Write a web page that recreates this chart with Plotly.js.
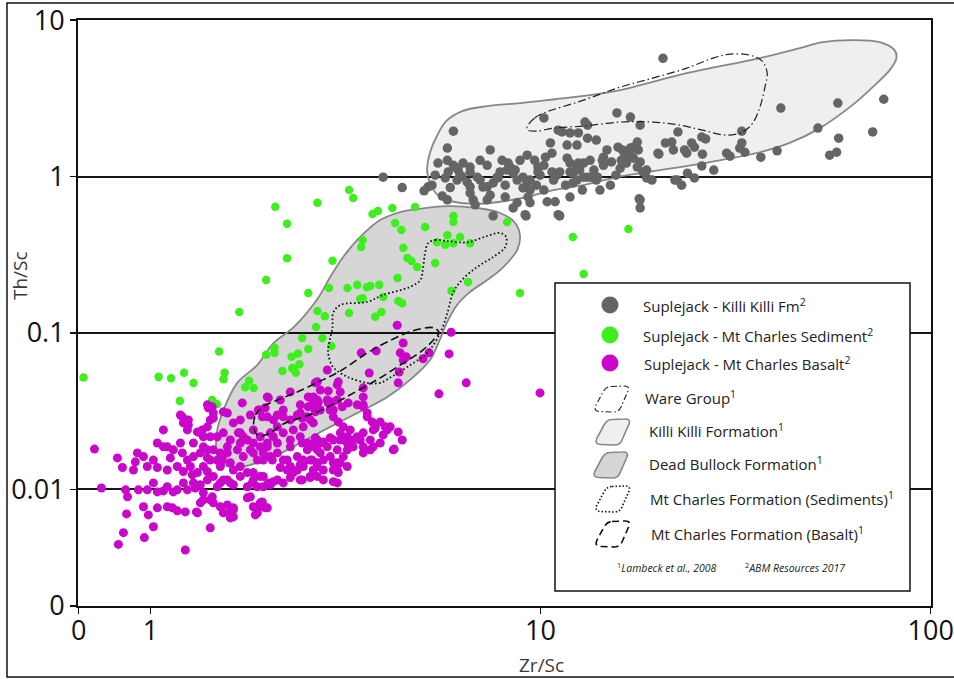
<!DOCTYPE html>
<html><head><meta charset="utf-8">
<script src="https://cdn.plot.ly/plotly-3.0.1.min.js"></script>
<style>html,body{margin:0;padding:0;background:#fff;}#chart{width:954px;height:679px;}</style>
</head><body><div id="chart"></div>
<script>
// ---------- DATA (Zr/Sc, Th/Sc) ----------
const killiFmZrSc = [3.95,4.42,5.03,5.15,5.27,5.60,5.77,5.98,5.77,5.46,5.77,5.98,6.15,6.33,6.60,5.87,6.11,6.49,6.60,6.60,6.72,7.30,7.43,7.00,7.30,7.56,7.74,7.97,8.21,8.36,8.51,8.71,9.02,9.24,9.40,9.29,9.40,9.24,9.66,9.85,10.2,10.3,10.6,10.7,10.2,10.4,10.9,11.1,10.8,11.0,11.2,11.7,11.9,12.4,12.6,12.9,12.1,12.4,12.9,13.4,11.7,12.4,11.9,12.5,11.1,11.35,13.0,13.2,11.9,12.8,13.2,13.9,14.8,13.5,14.0,14.4,14.5,15.2,15.1,15.7,17.0,15.8,16.2,16.6,17.0,17.3,17.7,17.8,18.0,16.6,17.3,18.0,18.3,18.7,19.3,18.0,18.0,20.0,20.9,21.7,21.9,22.5,23.4,23.7,24.4,24.8,22.4,23.0,23.8,24.8,10.2,7.56,8.51,9.13,11.2,8.71,20.6,32.8,41.3,57.8,75.8,51.4,58.1,71.0,55.1,57.4,40.4,36.7,32.8,32.4,33.4,30.0,30.6,25.9,26.5,26.0,25.9,27.8,20.1,22.1,16.4,17.9,9.18,5.37,6.29,8.12,8.86,9.97,11.6,13.7,15.6,16.0,7.00,7.43,7.88,5.70,6.80,8.12,9.76,14.2,6.88,7.12,7.78,8.26,8.61,9.02,9.40,9.85,10.7,11.9,12.5,12.1,13.2,13.9,14.5,16.1,17.0,17.7,18.7,7.30,6.60,6.22,6.04,5.80];
const killiFmThSc = [0.99,0.85,0.81,0.86,0.88,0.75,0.71,1.95,1.52,1.22,1.27,1.18,1.10,1.22,1.15,0.85,0.95,0.92,0.86,0.785,0.71,0.71,0.76,0.95,0.86,0.91,0.99,1.27,1.10,1.15,1.05,0.95,0.99,0.91,0.82,0.74,0.68,1.37,1.27,1.15,1.18,1.33,1.64,1.41,0.82,0.69,0.69,0.57,0.95,1.02,1.07,1.31,1.22,1.15,1.10,1.22,1.05,0.95,0.99,1.27,1.59,1.59,1.90,1.90,1.98,1.93,2.23,2.13,0.74,0.82,1.76,1.71,1.48,0.99,0.99,1.27,1.18,1.24,0.88,2.55,2.40,1.54,1.48,1.41,1.52,1.54,1.66,1.48,1.24,1.22,1.31,2.13,1.07,0.98,0.95,0.71,0.63,1.41,1.64,1.66,1.48,1.93,1.48,1.41,1.64,1.54,0.95,0.88,1.05,0.98,2.37,0.56,0.63,0.57,0.56,0.68,5.7,1.95,2.74,2.95,3.12,2.04,1.76,1.93,1.37,1.43,1.46,1.33,1.64,1.52,1.43,1.41,1.35,1.79,1.74,1.39,1.17,1.10,1.39,0.95,1.33,0.72,0.56,1.02,1.00,0.88,1.27,1.02,0.88,1.10,1.02,1.13,1.27,1.48,1.07,0.98,0.66,0.74,0.88,0.82,0.99,0.857,0.98,1.22,1.10,0.846,0.95,1.07,1.07,1.07,1.22,0.91,0.99,0.95,1.33,1.27,1.37,1.15,1.10,1.18,1.07,1.02,1.15,1.07];

const sedimentZrSc = [0.674,2.09,2.24,2.68,3.23,3.31,2.24,2.93,1.98,2.54,2.87,3.20,1.69,2.68,2.80,2.66,2.45,2.54,2.76,2.91,1.50,2.08,1.98,2.08,2.30,2.39,1.05,1.13,1.22,1.29,1.55,1.54,2.18,2.31,2.41,2.36,2.33,1.75,1.79,1.84,1.19,1.44,1.48,3.23,3.71,3.83,4.17,4.77,5.98,5.98,8.21,4.24,4.40,5.06,5.77,5.43,5.70,5.98,6.22,6.60,3.50,3.47,4.45,4.56,4.67,4.83,5.37,4.30,3.39,3.59,3.66,3.86,3.95,3.45,3.50,4.32,4.42,6.52,5.91,8.86,3.77,3.91,12.1,16.8,12.9];
const sedimentThSc = [0.052,0.64,0.50,0.68,0.82,0.73,0.30,0.29,0.218,0.18,0.194,0.194,0.136,0.138,0.128,0.109,0.093,0.079,0.093,0.0825,0.076,0.0803,0.0725,0.0747,0.0704,0.074,0.0524,0.0514,0.0556,0.0478,0.0556,0.0506,0.0572,0.0596,0.063,0.0556,0.0588,0.045,0.0494,0.0445,0.0368,0.0373,0.035,0.134,0.576,0.603,0.629,0.638,0.56,0.512,0.512,0.505,0.455,0.476,0.422,0.38,0.366,0.375,0.41,0.375,0.393,0.354,0.35,0.302,0.288,0.264,0.28,0.225,0.203,0.196,0.20,0.203,0.17,0.165,0.167,0.16,0.155,0.212,0.186,0.18,0.127,0.136,0.41,0.462,0.238];

const basaltZrSc = [0.719,0.749,0.823,0.848,0.905,0.915,0.926,0.982,1.018,1.042,0.864,0.874,0.869,0.853,0.828,0.960,0.988,0.965,1.018,1.229,0.932,0.982,1.018,1.042,1.080,1.105,1.145,1.172,1.042,1.105,1.139,1.172,1.080,1.105,1.145,1.125,1.172,1.105,1.208,1.215,1.251,1.194,1.208,1.244,1.266,1.215,1.281,1.320,1.244,1.304,1.343,1.215,1.229,1.312,1.367,1.441,1.450,1.424,1.343,1.400,1.424,1.450,1.441,1.367,1.400,1.450,1.484,1.511,1.538,1.575,1.603,1.632,1.400,1.450,1.511,1.575,1.632,1.700,1.772,1.511,1.575,1.603,1.632,1.603,1.772,1.804,1.836,1.880,1.913,1.970,1.858,1.700,1.772,1.836,1.913,1.994,1.730,1.836,1.947,2.030,2.116,2.191,2.284,2.380,2.465,2.570,2.678,1.836,1.947,2.066,2.191,2.284,2.422,2.570,1.575,1.632,1.700,1.913,1.994,2.116,2.191,2.422,2.616,2.066,2.191,2.284,2.422,2.524,2.678,2.841,3.639,5.49,4.343,4.317,3.013,3.067,3.512,2.678,2.726,2.284,2.539,2.616,2.694,2.841,2.006,2.153,1.720,1.891,1.970,1.936,1.538,1.450,1.400,2.066,2.191,2.284,2.380,2.539,2.451,2.570,2.891,2.943,3.031,3.512,3.596,3.882,4.119,4.046,4.317,4.421,4.217,3.726,3.512,3.390,3.726,3.311,3.196,3.067,2.891,2.775,3.013,2.891,2.775,3.013,3.031,2.943,3.013,2.678,2.600,2.465,2.570,2.451,2.325,2.243,2.054,1.947,1.880,1.804,1.700,1.772,1.836,1.913,2.006,2.116,1.603,1.538,1.575,1.511,1.529,1.424,1.367,1.289,1.603,1.538,1.484,1.400,1.367,1.424,1.343,1.632,1.538,1.632,1.936,1.880,1.994,1.320,1.825,1.880,1.947,2.030,2.153,2.243,2.380,2.422,2.570,2.726,2.841,2.116,2.030,1.994,1.913,1.730,1.700,1.484,1.424,1.289,1.400,1.343,1.289,3.122,3.253,3.196,3.311,3.451,3.882,3.661,3.512,2.775,2.678,2.775,3.704,3.770,4.292,5.90,4.447,5.83,5.18,5.00,3.471,3.793,4.369,4.447,4.526,6.45,9.97,2.647,3.031,2.857,3.512,3.512,3.596,2.616,2.925,2.943,1.194,1.251,1.320,1.244,1.408,1.359,1.367,1.042,0.960,1.080,1.804,1.681,1.836,1.671,1.994,2.422,2.524,2.678,2.647,2.325,2.465,2.616,2.116,2.284,2.451,2.647,2.726,2.857,3.013,3.103,3.215,3.390,3.998,4.192,3.951,3.661,3.512,3.196,3.067,2.943,2.726,2.616,2.524,2.465,2.943,3.013,3.067,2.678,2.616,2.943,3.122,3.196];
const basaltThSc = [0.0181,0.0102,0.0159,0.0138,0.0133,0.0150,0.0171,0.0140,0.0154,0.0138,0.00993,0.00896,0.00697,0.00529,0.00445,0.00774,0.00687,0.00492,0.00577,0.00410,0.00993,0.00993,0.0110,0.00964,0.00978,0.0104,0.00964,0.00993,0.00762,0.00774,0.00762,0.00729,0.0240,0.0187,0.0179,0.0159,0.0140,0.0133,0.0291,0.0266,0.0258,0.0198,0.0171,0.0154,0.0140,0.0130,0.0124,0.0128,0.00993,0.0102,0.0107,0.0110,0.00718,0.00718,0.00857,0.00896,0.00820,0.00568,0.0230,0.0251,0.0278,0.0308,0.0337,0.0187,0.0159,0.0179,0.0154,0.0140,0.0166,0.0187,0.0148,0.0133,0.0130,0.0121,0.0110,0.0115,0.0107,0.0121,0.0104,0.00774,0.00796,0.00718,0.00762,0.00657,0.00883,0.00896,0.00774,0.00740,0.00820,0.00762,0.00687,0.0230,0.0207,0.0240,0.0217,0.0198,0.0162,0.0171,0.0154,0.0162,0.0171,0.0154,0.0140,0.0162,0.0148,0.0154,0.0140,0.0128,0.0121,0.0112,0.0110,0.0119,0.0115,0.0121,0.0308,0.0266,0.0278,0.0322,0.0291,0.0299,0.0322,0.0308,0.0337,0.0217,0.0230,0.0207,0.0217,0.0198,0.0207,0.0580,0.0555,0.0408,0.0563,0.0480,0.0466,0.0420,0.0446,0.0487,0.0432,0.0420,0.0390,0.0357,0.0362,0.0373,0.0385,0.0373,0.0357,0.0322,0.0332,0.0291,0.0313,0.0286,0.0347,0.0278,0.0291,0.0278,0.0299,0.0337,0.0286,0.0278,0.0322,0.0291,0.0270,0.0347,0.0291,0.0270,0.0251,0.0240,0.0233,0.0207,0.0181,0.0240,0.0230,0.0217,0.0187,0.0187,0.0198,0.0207,0.0214,0.0201,0.0179,0.0162,0.0154,0.0148,0.0128,0.0133,0.0110,0.0179,0.0154,0.0140,0.0119,0.0115,0.0128,0.0154,0.0154,0.0171,0.0154,0.0179,0.0140,0.0128,0.0115,0.0121,0.0110,0.0115,0.0207,0.0230,0.0171,0.0171,0.0154,0.0154,0.0140,0.0110,0.0110,0.0115,0.0104,0.0115,0.00950,0.00857,0.00820,0.00740,0.00708,0.00667,0.00830,0.00708,0.00762,0.00708,0.0110,0.0104,0.0104,0.0107,0.0138,0.0133,0.0133,0.0144,0.0187,0.0198,0.0187,0.0251,0.0230,0.0187,0.0187,0.0217,0.0198,0.0217,0.0217,0.0198,0.0179,0.0171,0.0162,0.0251,0.0240,0.0217,0.0207,0.0207,0.0198,0.0179,0.0171,0.0133,0.0121,0.0115,0.0270,0.0247,0.112,0.101,0.0863,0.0735,0.0746,0.0684,0.0746,0.0768,0.0746,0.0672,0.0704,0.0480,0.0414,0.0480,0.0487,0.0426,0.0390,0.0337,0.0308,0.0390,0.0362,0.0322,0.0299,0.0278,0.0233,0.0240,0.0332,0.0240,0.0217,0.0198,0.0162,0.0187,0.0299,0.0230,0.0198,0.0179,0.0390,0.0347,0.0291,0.0373,0.0313,0.0240,0.0251,0.0266,0.0198,0.0187,0.0198,0.0214,0.0322,0.0357,0.0373,0.0337,0.0357,0.0347,0.0251,0.0179,0.0223,0.0207,0.0187,0.0179,0.0230,0.0207,0.0171,0.0198,0.0179,0.0154,0.0148,0.0133,0.0148,0.0148,0.0133,0.0112,0.0162,0.0140];

// field outlines (Lambeck et al., 2008)
const wareGroupZrSc = [9.24,9.66,10.2,12.9,16.0,19.4,23.7,27.7,30.6,34.4,37.0,38.1,37.6,36.5,35.0,33.0,30.0,26.0,22.8,19.4,16.0,12.9,10.8,9.76,9.29];
const wareGroupThSc = [2.07,2.37,2.55,3.08,3.73,4.26,4.93,5.72,6.06,5.97,5.47,4.58,3.73,2.78,2.20,1.93,1.84,1.98,2.13,2.23,2.23,2.10,2.04,1.95,1.98];
const killiFieldZrSc = [5.12,5.21,5.42,5.73,6.30,7.30,8.86,10.9,13.4,16.0,23.7,36.5,46.2,52.9,63.1,74.0,80.8,81.7,78.5,71.0,63.1,52.0,43.5,36.5,28.8,22.8,18.0,15.7,12.9,10.8,9.24,7.88,6.72,5.98,5.53,5.27,5.15];
const killiFieldThSc = [1.13,1.43,1.81,2.26,2.62,2.82,2.95,3.12,3.31,3.57,4.58,5.72,6.62,7.23,7.45,7.23,6.43,5.72,4.79,3.73,2.87,2.04,1.64,1.43,1.27,1.15,1.05,0.99,0.88,0.82,0.74,0.69,0.668,0.69,0.74,0.846,0.99];
const deadBullockZrSc = [4.37,4.83,5.77,6.88,7.88,8.61,8.86,8.71,8.03,7.30,6.60,6.11,5.77,5.49,5.21,4.63,4.05,3.39,2.89,2.42,2.07,1.73,1.58,1.49,1.48,1.54,1.67,1.88,2.07,2.33,2.68,2.89,3.12,3.45,3.88];
const deadBullockThSc = [0.593,0.620,0.647,0.629,0.585,0.505,0.417,0.339,0.264,0.218,0.183,0.151,0.118,0.0876,0.0672,0.0501,0.0390,0.0308,0.0251,0.0198,0.0162,0.0140,0.0140,0.0162,0.0230,0.0322,0.0480,0.0624,0.0863,0.109,0.165,0.228,0.306,0.411,0.527];
const mcSedFieldZrSc = [5.15,5.37,5.77,6.49,7.30,7.88,8.16,8.12,7.56,6.88,6.33,5.98,5.77,5.53,5.12,4.55,4.19,3.88,3.60,3.20,2.94,2.86,2.86,2.93,2.94,3.07,3.60,3.95,4.63,4.92,5.00,5.06];
const mcSedFieldThSc = [0.375,0.393,0.387,0.380,0.417,0.436,0.411,0.354,0.306,0.264,0.222,0.183,0.134,0.100,0.0746,0.0606,0.0533,0.0480,0.0480,0.0524,0.0606,0.0725,0.0814,0.109,0.134,0.151,0.158,0.175,0.197,0.218,0.264,0.325];
const mcBasFieldZrSc = [1.84,1.86,1.94,2.12,2.38,2.73,3.07,3.60,4.19,4.69,5.31,5.49,5.34,5.00,4.37,3.88,3.39,3.01,2.68,2.42,2.19,2.03,1.89];
const mcBasFieldThSc = [0.0251,0.0299,0.0337,0.0373,0.0420,0.0494,0.0572,0.0746,0.0915,0.103,0.108,0.101,0.0915,0.0779,0.0624,0.0516,0.0426,0.0362,0.0313,0.0286,0.0262,0.0230,0.0220];

// axis ticks
const xTickVals = [0.655, 1, 10, 100];
const xTickText = ['0', '1', '10', '100'];
const yTickVals = [0.0018, 0.01, 0.1, 1, 10];
const yTickText = ['0', '0.01', '0.1', '1', '10'];

// legend entries
const legendLabels = [
  'Suplejack - Killi Killi Fm<sup>2</sup>',
  'Suplejack - Mt Charles Sediment<sup>2</sup>',
  'Suplejack - Mt Charles Basalt<sup>2</sup>',
  'Ware Group<sup>1</sup>',
  'Killi Killi Formation<sup>1</sup>',
  'Dead Bullock Formation<sup>1</sup>',
  'Mt Charles Formation (Sediments)<sup>1</sup>',
  'Mt Charles Formation (Basalt)<sup>1</sup>'
];
const footnotes = ['<sup>1</sup><i>Lambeck et al., 2008</i>', '<sup>2</sup><i>ABM Resources 2017</i>'];

// ---------- LAYOUT HELPERS ----------
const W = 954, H = 679, ML = 78, MR = 23, MT = 20, MB = 73;
const PW = W - ML - MR, PH = H - MT - MB;
const fx = px => (px - ML) / PW;
const fy = py => 1 - (py - MT) / PH;
const close = a => a.concat([a[0]]);

const GRAY = '#656565', GREEN = '#3eef1e', MAGENTA = '#cb06cb';
const FIELD_LINE = '#878787';
const KILLI_FILL = 'rgba(0,0,0,0.063)', DEAD_FILL = 'rgba(0,0,0,0.16)';

function field(xs, ys, opts) {
  return Object.assign({
    type: 'scatter', mode: 'lines', x: close(xs), y: close(ys),
    hoverinfo: 'skip', showlegend: false
  }, opts);
}
function pts(xs, ys, color, size) {
  return { type: 'scatter', mode: 'markers', x: xs, y: ys, hoverinfo: 'skip', showlegend: false,
    marker: { color: color, size: size, line: { width: 0 } } };
}

const traces = [
  field(killiFieldZrSc, killiFieldThSc, { fill: 'toself', fillcolor: KILLI_FILL, line: { color: FIELD_LINE, width: 1.8, shape: 'spline', smoothing: 1 } }),
  field(deadBullockZrSc, deadBullockThSc, { fill: 'toself', fillcolor: DEAD_FILL, line: { color: FIELD_LINE, width: 1.8, shape: 'spline', smoothing: 1 } }),
  pts(killiFmZrSc, killiFmThSc, GRAY, 9.5),
  pts(sedimentZrSc, sedimentThSc, GREEN, 8.5),
  pts(basaltZrSc, basaltThSc, MAGENTA, 9),
  field(wareGroupZrSc, wareGroupThSc, { line: { color: '#222', width: 1.2, dash: '8px,3px,1.5px,3px', shape: 'spline', smoothing: 1 } }),
  field(mcSedFieldZrSc, mcSedFieldThSc, { line: { color: '#111', width: 1.8, dash: '1.6px,2.4px', shape: 'spline', smoothing: 1 } }),
  field(mcBasFieldZrSc, mcBasFieldThSc, { line: { color: '#111', width: 1.6, dash: '8px,4px', shape: 'spline', smoothing: 1 } })
];

// legend icon path (pixel offsets, y up)
function iconPath() {
  const p = [[0,-12.5],[12,-13],[19,-13.5],[17,-8],[10,8],[8,13],[2,13],[-11,12.5],[-18,12.5],[-15,6],[-8,-7],[-5,-12.5],[0,-12.5]];
  const q = p.map(([a,b]) => a + ',' + (-b));
  return 'M' + q[0] + ' L' + q[1] + ' Q' + q[2] + ' ' + q[3] + ' L' + q[4] + ' Q' + q[5] + ' ' + q[6] +
         ' L' + q[7] + ' Q' + q[8] + ' ' + q[9] + ' L' + q[10] + ' Q' + q[11] + ' ' + q[12] + ' Z';
}

const shapes = [
  { type: 'rect', xref: 'paper', yref: 'paper', x0: fx(7), x1: fx(966), y0: fy(677), y1: fy(3),
    line: { color: '#111', width: 1.5 }, fillcolor: 'rgba(0,0,0,0)', layer: 'above' },
  { type: 'rect', xref: 'paper', yref: 'paper', x0: fx(555), x1: fx(910), y0: fy(591), y1: fy(283),
    line: { color: '#111', width: 1.5 }, fillcolor: '#ffffff', layer: 'above' }
];
const markerRows = [[305, GRAY], [335, GREEN], [363, MAGENTA]];
markerRows.forEach(([py, c]) => shapes.push({
  type: 'circle', xref: 'paper', yref: 'paper', xsizemode: 'pixel', ysizemode: 'pixel',
  xanchor: fx(610), yanchor: fy(py), x0: -8.5, x1: 8.5, y0: -8.5, y1: 8.5,
  fillcolor: c, line: { width: 0 }, layer: 'above' }));
const iconRows = [
  [611, 399, { color: '#222', width: 1.1, dash: '6px,2.5px,1.5px,2.5px' }, 'rgba(0,0,0,0)'],
  [612, 432, { color: FIELD_LINE, width: 1.6 }, '#efefef'],
  [610, 465, { color: FIELD_LINE, width: 1.6 }, '#d6d6d6'],
  [612, 499, { color: '#111', width: 1.6, dash: '1.5px,2px' }, 'rgba(0,0,0,0)'],
  [612, 534, { color: '#111', width: 1.6, dash: '7px,4px' }, 'rgba(0,0,0,0)']
];
iconRows.forEach(([cx, cy, ln, fc]) => shapes.push({
  type: 'path', xref: 'paper', yref: 'paper', xsizemode: 'pixel', ysizemode: 'pixel',
  xanchor: fx(cx), yanchor: fy(cy), path: iconPath(), line: ln, fillcolor: fc, layer: 'above' }));

const legendPos = [[641,305],[641,335],[642,363],[643,397],[647,430],[647,464],[648,498],[649,533]];
const annotations = legendLabels.map((t, i) => ({
  xref: 'paper', yref: 'paper', x: fx(legendPos[i][0]), y: fy(legendPos[i][1]),
  xanchor: 'left', yanchor: 'middle', showarrow: false, text: t,
  font: { family: 'Open Sans', size: 15, color: '#222' } }));
[[615, 567], [743, 567]].forEach(([px, py], i) => annotations.push({
  xref: 'paper', yref: 'paper', x: fx(px), y: fy(py), xanchor: 'left', yanchor: 'middle',
  showarrow: false, text: footnotes[i], font: { family: 'Open Sans', size: 10.5, color: '#222' } }));
annotations.push({ xref: 'paper', yref: 'paper', x: fx(541), y: fy(665), xanchor: 'center', yanchor: 'middle',
  showarrow: false, text: 'Zr/Sc', font: { family: 'Open Sans', size: 19, color: '#3a3a3a' } });
annotations.push({ xref: 'paper', yref: 'paper', x: fx(20), y: fy(276), xanchor: 'center', yanchor: 'middle',
  showarrow: false, text: 'Th/Sc', textangle: -90, font: { family: 'Open Sans', size: 19, color: '#3a3a3a' } });

const axisCommon = {
  type: 'log', showline: true, linecolor: '#111', linewidth: 2, mirror: true,
  ticks: 'outside', ticklen: 6, tickwidth: 1.5, tickcolor: '#111', zeroline: false,
  tickmode: 'array', tickfont: { family: 'Open Sans', size: 27, color: '#111' }, fixedrange: true
};
const layout = {
  width: W, height: H, margin: { l: ML, r: MR, t: MT, b: MB, pad: 0 },
  paper_bgcolor: '#fff', plot_bgcolor: '#fff', showlegend: false, hovermode: false,
  font: { family: 'Open Sans' },
  xaxis: Object.assign({}, axisCommon, { range: [-0.1855, 2.0008], tickvals: xTickVals, ticktext: xTickText,
    showgrid: false, ticklabelstandoff: -6 }),
  yaxis: Object.assign({}, axisCommon, { range: [-2.7455, 1.0008], tickvals: yTickVals, ticktext: yTickText,
    showgrid: true, gridcolor: '#161616', gridwidth: 2 }),
  shapes: shapes, annotations: annotations
};
Plotly.newPlot('chart', traces, layout, { staticPlot: true, displayModeBar: false });
</script></body></html>
